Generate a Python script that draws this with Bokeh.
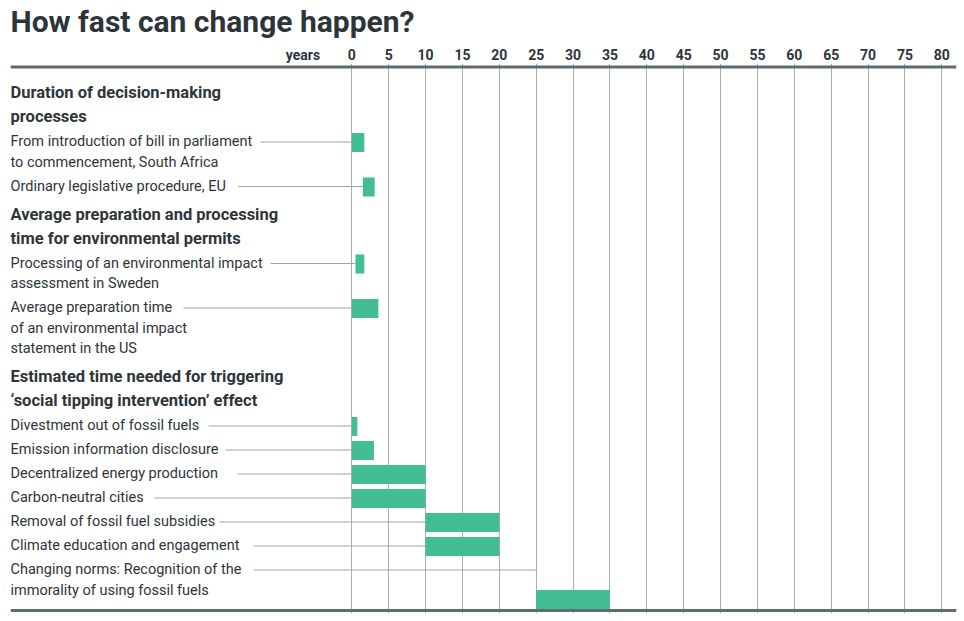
from bokeh.plotting import figure
from bokeh.models import Range1d, FixedTicker, CustomJSTickFormatter, Span, ColumnDataSource
from bokeh.core.properties import value
from bokeh.embed import file_html
from bokeh.resources import INLINE

# ---------------- data ----------------
title_text = "How fast can change happen?"
axis_unit = "years"
tick_values = [0, 5, 10, 15, 20, 25, 30, 35, 40, 45, 50, 55, 60, 65, 70, 75, 80]

group_titles = [
    ["Duration of decision-making", "processes"],
    ["Average preparation and processing", "time for environmental permits"],
    ["Estimated time needed for triggering", "\u2018social tipping intervention\u2019 effect"],
]
item_labels = [
    ["From introduction of bill in parliament", "to commencement, South Africa"],
    ["Ordinary legislative procedure, EU"],
    ["Processing of an environmental impact", "assessment in Sweden"],
    ["Average preparation time", "of an environmental impact", "statement in the US"],
    ["Divestment out of fossil fuels"],
    ["Emission information disclosure"],
    ["Decentralized energy production"],
    ["Carbon-neutral cities"],
    ["Removal of fossil fuel subsidies"],
    ["Climate education and engagement"],
    ["Changing norms: Recognition of the", "immorality of using fossil fuels"],
]
item_group = [0, 0, 1, 1, 2, 2, 2, 2, 2, 2, 2]
start_years = [0, 1.5, 0.5, 0, 0, 0, 0, 0, 10, 10, 25]
end_years = [1.7, 3.1, 1.7, 3.6, 0.75, 3, 10, 10, 20, 20, 35]

# ---------------- layout / style ----------------
GREEN = "#43bd92"
DARK = "#2e3539"
RULE = "#5f6b73"
GRID = "#a7afb3"
LEADER = "#9aa3a8"
FONT = "Roboto"

PX0, PXU = 351.3, 7.375          # page x of year 0, pixels per year
FRAME_L, FRAME_R = 10, 956
FRAME_T, FRAME_B = 63, 613
SHIFT_UP = 3


def px2yr(px):
    return (px - PX0) / PXU


leader_start_px = [260, 238, 270, 183, 208, 225, 237, 154, 219, 253, 253]
bar_below_text = [False] * 10 + [True]

head_rows, item_rows = [], []
bar_y, leader_y = [], []
y = 92
prev = None
for g, lines in enumerate(group_titles):
    if prev == "item":
        y += 28
    for k, line in enumerate(lines):
        if k > 0:
            y += 24
        head_rows.append((y, line))
    prev = "head"
    for i, lab in enumerate(item_labels):
        if item_group[i] != g:
            continue
        y += 25 if prev == "head" else 24
        first = y
        for k, line in enumerate(lab):
            if k > 0:
                y += 20.5
            item_rows.append((y, line))
        leader_y.append(first + 0.5)
        bar_y.append(y + 9.5 if bar_below_text[i] else first + 1)
        prev = "item"

p = figure(
    frame_width=FRAME_R - FRAME_L, frame_height=FRAME_B - FRAME_T,
    x_range=Range1d(px2yr(FRAME_L), px2yr(FRAME_R)),
    y_range=Range1d(FRAME_B, FRAME_T),
    x_axis_location="above", y_axis_location=None,
    output_backend="svg", toolbar_location=None,
    min_border_left=FRAME_L, min_border_right=2, min_border_bottom=2, min_border_top=0,
)
p.margin = (-SHIFT_UP, 0, 0, 0)
p.outline_line_color = None
p.background_fill_color = "white"

p.title.text = title_text
p.title.text_font = FONT
p.title.text_font_size = "30px"
p.title.text_font_style = "bold"
p.title.text_color = DARK
p.title.offset = 0
p.title.standoff = 6 + SHIFT_UP

ax = p.xaxis[0]
ax.ticker = FixedTicker(ticks=[px2yr(302.5)] + tick_values)
ax.formatter = CustomJSTickFormatter(
    args=dict(unit=axis_unit),
    code="return tick < 0 ? unit : String(Math.round(tick));")
ax.major_tick_out = 0
ax.major_tick_in = 0
ax.minor_tick_out = 0
ax.minor_tick_in = 0
ax.axis_line_color = None
ax.major_label_text_font = FONT
ax.major_label_text_font_size = "14px"
ax.major_label_text_font_style = "bold"
ax.major_label_text_color = DARK
ax.major_label_standoff = 1

p.ygrid.visible = False
p.xgrid.ticker = FixedTicker(ticks=tick_values)
p.xgrid.grid_line_color = GRID
p.xgrid.grid_line_width = 1

# leader lines
p.segment(x0=[px2yr(v) for v in leader_start_px], y0=leader_y,
          x1=start_years, y1=leader_y, line_color=LEADER, line_width=1)

# bars
src = ColumnDataSource(dict(y=bar_y, left=start_years, right=end_years))
p.hbar(y="y", left="left", right="right", height=19, source=src,
       fill_color=GREEN, line_color=None)

# labels
p.text(x=[px2yr(10)] * len(head_rows), y=[r[0] for r in head_rows],
       text=[r[1] for r in head_rows], text_font=value(FONT),
       text_font_size="16.5px", text_font_style="bold", text_color=DARK,
       text_baseline="middle", text_align="left")
p.text(x=[px2yr(10)] * len(item_rows), y=[r[0] for r in item_rows],
       text=[r[1] for r in item_rows], text_font=value(FONT),
       text_font_size="14.5px", text_color=DARK,
       text_baseline="middle", text_align="left")

# rules
p.add_layout(Span(location=66.5, dimension="width", line_color=RULE, line_width=3))
p.add_layout(Span(location=610, dimension="width", line_color=RULE, line_width=3))

open("out.html", "w").write(file_html(p, INLINE))
